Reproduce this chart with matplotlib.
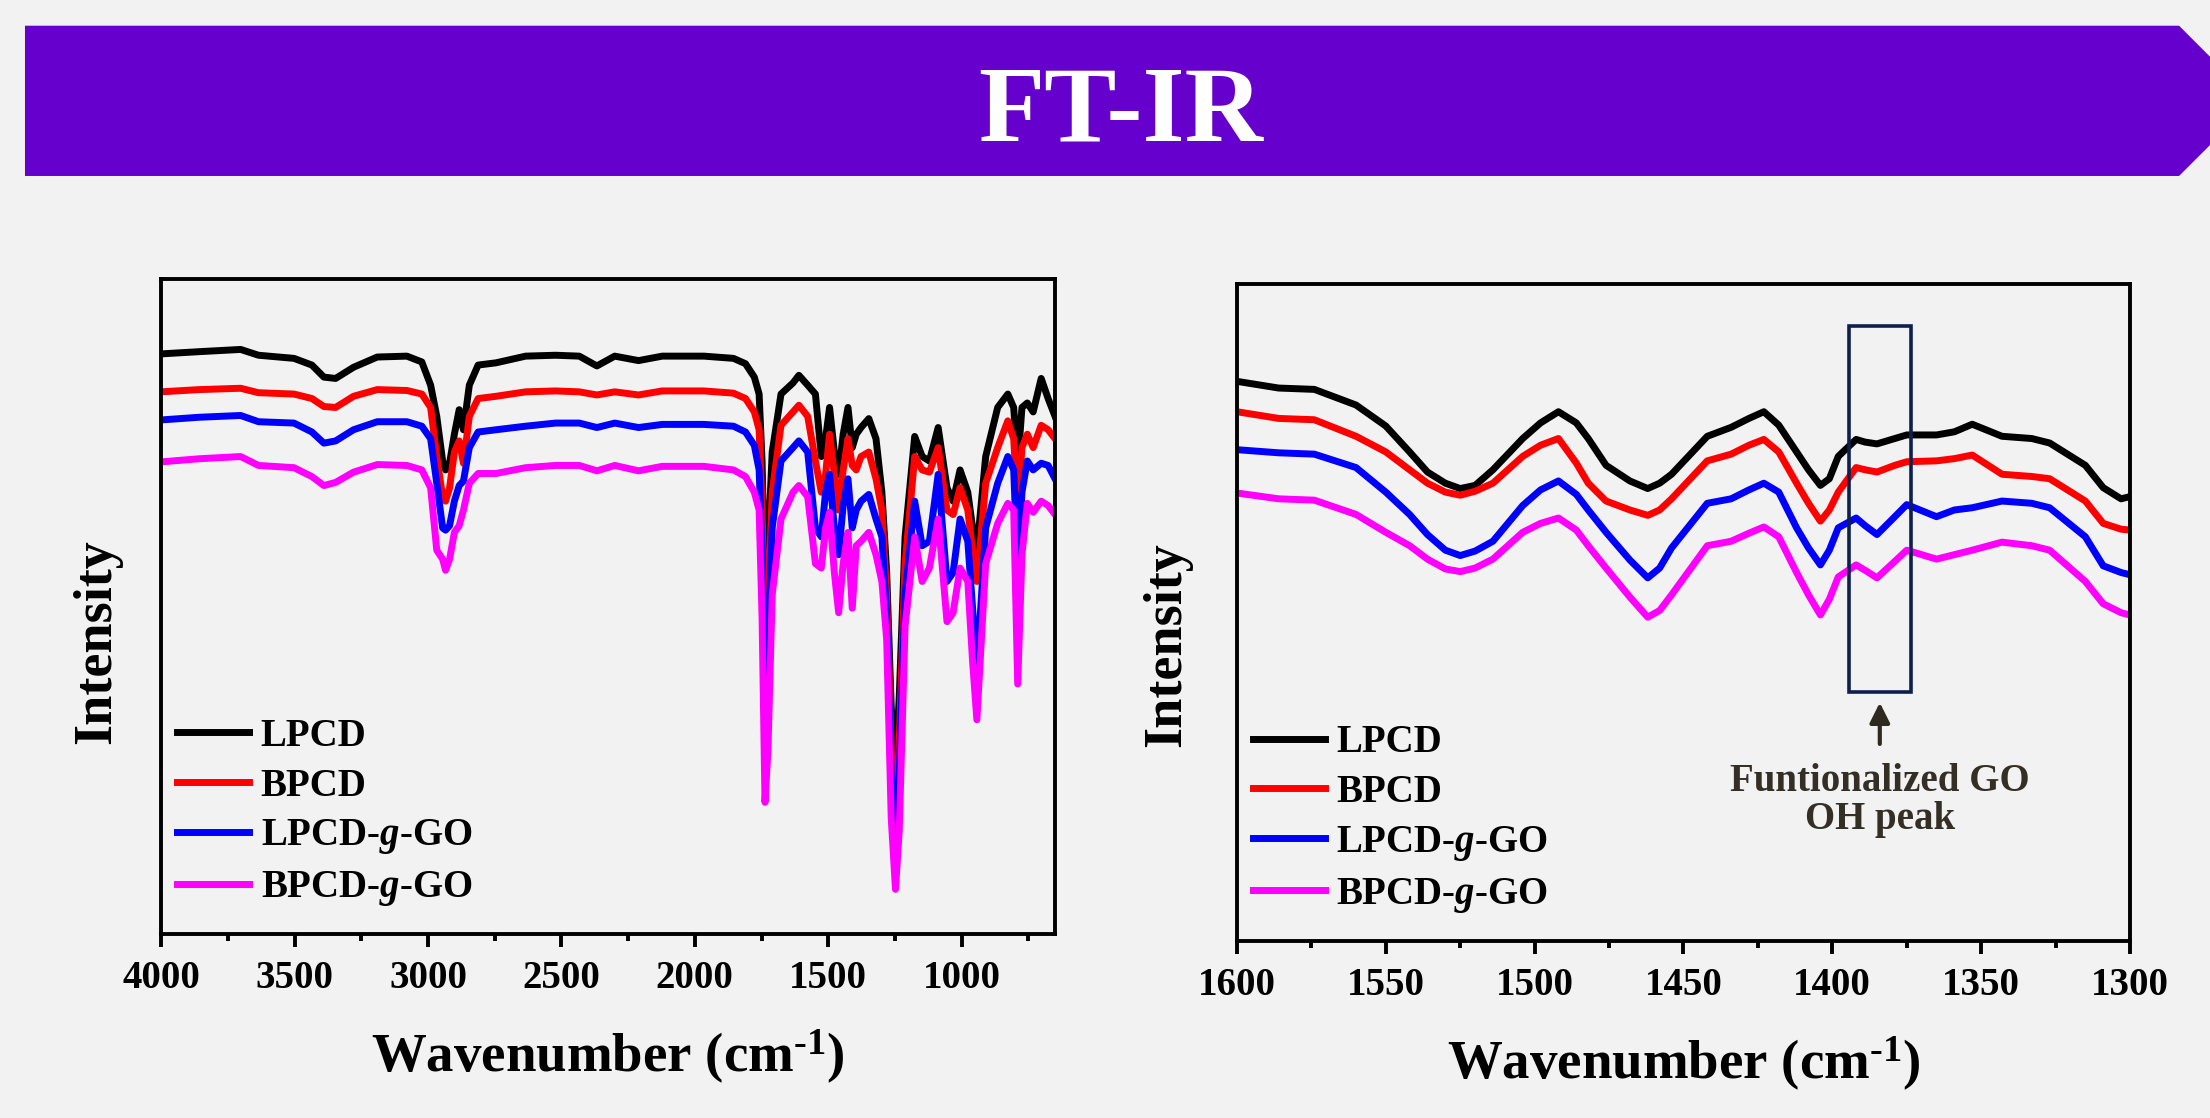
import numpy as np
import matplotlib
matplotlib.use("Agg")
import matplotlib.pyplot as plt
from matplotlib.patches import Polygon, Rectangle
from matplotlib.ticker import MultipleLocator

plt.rcParams['font.family'] = ['Liberation Serif', 'DejaVu Serif']
plt.rcParams['font.weight'] = 'bold'
plt.rcParams['mathtext.fontset'] = 'custom'
plt.rcParams['mathtext.rm'] = 'Liberation Serif:bold'
plt.rcParams['mathtext.bf'] = 'Liberation Serif:bold'
plt.rcParams['mathtext.it'] = 'Liberation Serif:italic:bold'
plt.rcParams['mathtext.default'] = 'rm'

# ---- data (intensity in arbitrary units) ----
labels = ['LPCD', 'BPCD', r'LPCD-$\mathit{g}$-GO', r'BPCD-$\mathit{g}$-GO']
colors = ['#000000', '#FF0000', '#0000FF', '#FF00FF']

# full range spectra 4000-650 cm-1
wn_full = [4000, 3858, 3702, 3635, 3502, 3435, 3390, 3346, 3279, 3190, 3079, 3023,
           2990, 2967, 2945, 2934, 2919, 2901, 2883, 2867, 2845, 2812, 2745, 2634,
           2522, 2433, 2367, 2300, 2211, 2122, 1966, 1855, 1810, 1777, 1759, 1748,
           1737, 1726, 1710, 1677, 1632, 1610, 1577, 1548, 1526, 1510, 1495, 1477,
           1461, 1444, 1426, 1410, 1395, 1377, 1348, 1321, 1299, 1281, 1264, 1248,
           1234, 1212, 1176, 1148, 1121, 1088, 1055, 1032, 1006, 977, 959, 943,
           910, 865, 827, 805, 790, 774, 754, 732, 702, 676, 650]
lpcd_full = [130.0, 130.5, 131.0, 129.7, 129.0, 127.5, 124.8, 124.5, 127.0, 129.3, 129.5, 128.2,
             123.0, 116.0, 106.0, 104.0, 105.5, 112.0, 117.5, 113.0, 123.0, 127.5, 128.0, 129.5,
             129.7, 129.5, 127.3, 129.5, 128.5, 129.5, 129.5, 129.0, 127.8, 124.8, 121.0, 106.0,
             77.0, 86.0, 108.0, 121.0, 123.5, 125.2, 123.0, 121.0, 107.0, 111.0, 118.0, 108.0,
             103.0, 112.0, 118.0, 109.0, 112.0, 113.5, 115.5, 111.0, 99.0, 81.0, 51.0, 36.0,
             53.0, 89.0, 111.5, 107.0, 106.0, 113.5, 100.0, 97.0, 104.0, 99.0, 91.0, 86.0,
             107.0, 118.0, 121.0, 118.0, 105.0, 118.0, 119.0, 117.0, 124.5, 120.0, 116.0]
bpcd_full = [121.5, 122.0, 122.3, 121.3, 121.0, 120.0, 118.2, 118.0, 120.5, 122.0, 121.8, 121.0,
             118.0, 107.0, 98.0, 97.0, 100.0, 108.0, 110.5, 105.5, 116.0, 120.0, 120.5, 121.5,
             121.7, 121.5, 120.8, 121.5, 120.8, 121.7, 121.7, 121.2, 120.0, 117.0, 113.0, 96.0,
             66.0, 73.0, 99.0, 114.0, 117.0, 118.5, 116.0, 106.0, 99.0, 103.0, 112.0, 103.0,
             95.0, 104.0, 111.0, 105.0, 104.0, 107.0, 108.0, 102.0, 95.0, 76.0, 41.0, 26.0,
             43.0, 83.0, 107.0, 104.0, 103.5, 109.0, 95.0, 94.0, 100.0, 95.0, 86.0, 79.0,
             101.0, 109.0, 115.0, 111.0, 95.0, 109.0, 112.0, 109.0, 114.0, 113.0, 111.0]
lpcd_go_full = [115.2, 115.8, 116.2, 114.8, 114.5, 112.5, 110.0, 110.5, 113.0, 114.8, 114.8, 113.8,
                111.0, 101.0, 91.0, 90.5, 91.5, 97.0, 100.5, 101.5, 109.0, 112.5, 113.0, 113.8,
                114.5, 114.5, 113.5, 114.5, 113.5, 114.2, 114.2, 113.8, 112.5, 109.5, 104.0, 86.0,
                51.0, 61.0, 91.0, 106.0, 109.0, 110.5, 108.0, 91.0, 89.0, 99.0, 103.0, 91.0,
                85.0, 96.0, 102.0, 91.0, 95.0, 97.0, 98.5, 93.0, 89.0, 71.0, 36.0, 21.0,
                36.0, 76.0, 97.0, 87.0, 88.0, 103.0, 79.0, 81.0, 93.0, 88.0, 73.0, 59.0,
                91.0, 101.0, 107.0, 104.0, 81.0, 99.0, 106.0, 104.0, 105.5, 105.0, 102.0]
bpcd_go_full = [105.8, 106.5, 107.0, 105.0, 104.5, 102.5, 100.5, 101.2, 103.5, 105.2, 105.0, 104.0,
                100.0, 86.0, 84.0, 81.5, 84.0, 90.0, 91.5, 95.0, 101.0, 103.2, 103.2, 104.5,
                105.0, 105.0, 103.8, 105.0, 103.8, 104.8, 104.8, 104.0, 102.5, 99.0, 95.0, 71.0,
                29.5, 41.0, 76.0, 93.0, 99.0, 100.5, 98.0, 83.0, 82.0, 91.0, 94.5, 81.0,
                72.0, 83.0, 90.0, 73.0, 87.0, 88.0, 90.0, 85.0, 79.0, 66.0, 26.0, 10.0,
                23.0, 69.0, 89.0, 79.0, 82.0, 93.0, 70.0, 72.0, 82.0, 79.0, 61.0, 48.0,
                83.0, 92.0, 96.5, 95.0, 56.0, 85.0, 96.5, 94.5, 97.0, 96.0, 94.0]

# zoomed spectra 1600-1300 cm-1
wn_zoom = [1600, 1586, 1574, 1560, 1550, 1542, 1536, 1530, 1525, 1520,
           1514, 1504, 1498, 1492, 1486, 1482, 1476, 1468, 1462, 1458,
           1454, 1442, 1434, 1428, 1423, 1418, 1412, 1408, 1404, 1401,
           1398, 1392, 1389, 1385, 1379, 1375, 1365, 1359, 1353, 1343,
           1333, 1327, 1315, 1309, 1303, 1300]
lpcd_zoom = [125.3, 123.8, 123.5, 120.0, 115.3, 109.5, 105.0, 102.5, 101.3, 102.0,
             105.5, 112.5, 116.0, 118.5, 116.0, 112.5, 106.5, 103.0, 101.3, 102.5,
             104.5, 113.0, 115.0, 117.0, 118.5, 115.5, 109.5, 105.5, 102.0, 103.5,
             108.5, 112.3, 111.7, 111.3, 112.5, 113.3, 113.3, 114.0, 115.7, 113.0,
             112.5, 111.5, 106.5, 101.5, 99.0, 99.5]
bpcd_zoom = [118.5, 117.0, 116.7, 113.0, 109.5, 105.5, 102.5, 100.5, 99.8, 100.7,
             102.5, 108.5, 111.0, 112.5, 107.0, 102.5, 98.5, 96.5, 95.3, 96.5,
             99.0, 107.5, 109.0, 111.0, 112.3, 109.5, 102.5, 98.0, 94.0, 96.5,
             100.5, 106.0, 105.5, 105.0, 106.5, 107.3, 107.5, 108.0, 108.8, 104.5,
             104.0, 103.5, 98.5, 93.5, 92.2, 92.0]
lpcd_go_zoom = [110.0, 109.3, 109.0, 106.0, 100.5, 95.5, 91.0, 87.5, 86.3, 87.3,
                89.5, 97.5, 101.0, 103.0, 100.0, 96.5, 91.5, 85.3, 81.3, 83.5,
                88.0, 98.0, 99.0, 101.0, 102.5, 100.5, 92.5, 88.0, 84.2, 87.5,
                92.5, 94.7, 93.0, 91.0, 95.0, 97.7, 95.0, 96.5, 97.0, 98.5,
                98.0, 97.0, 90.5, 84.0, 82.5, 82.0]
bpcd_go_zoom = [100.3, 99.0, 98.7, 95.5, 91.5, 88.5, 85.5, 83.3, 82.7, 83.5,
                85.5, 91.5, 93.5, 94.7, 92.0, 88.5, 83.5, 77.0, 72.5, 74.0,
                77.5, 88.5, 89.5, 91.3, 92.7, 90.5, 82.5, 77.5, 73.0, 76.5,
                81.5, 84.2, 83.0, 81.3, 85.0, 87.5, 85.5, 86.5, 87.5, 89.3,
                88.5, 87.5, 80.5, 75.5, 73.5, 73.0]

box_x = [1373.6, 1394.5]
box_y = [55.8, 137.7]

bg = '#F2F2F2'
fig = plt.figure(figsize=(22.1, 11.18), dpi=100, facecolor=bg)

# title banner
banner = Polygon([[0.0113, 0.977], [0.986, 0.977], [1.02, 0.9097], [0.986, 0.8426], [0.0113, 0.8426]],
                 closed=True, transform=fig.transFigure, facecolor='#6600CC', edgecolor='none')
fig.add_artist(banner)
fig.text(0.5072, 0.8742, 'FT-IR', color='white', fontsize=78, fontweight='bold',
         ha='center', va='baseline')

xlab = 'Wavenumber (cm$^{\u20101}$)'


def style(ax):
    ax.set_facecolor(bg)
    for s in ax.spines.values():
        s.set_linewidth(2.8)
    ax.tick_params(axis='x', which='major', direction='out', length=9.5, width=2.8,
                   labelsize=28, pad=9)
    ax.tick_params(axis='x', which='minor', direction='out', length=5, width=2.8)
    ax.tick_params(axis='y', which='both', left=False, labelleft=False)
    ax.set_xlabel(xlab, fontsize=39.5, fontweight='bold', labelpad=22.5)
    ax.set_ylabel('Intensity', fontsize=39, fontweight='bold')


legend_kw = dict(loc='upper left', frameon=False, fontsize=28, handlelength=1.85,
                 handletextpad=0.3, labelspacing=0.33, borderaxespad=0, borderpad=0)

ax1 = fig.add_axes([0.0729, 0.1646, 0.4045, 0.5859])
for y, c, lab in zip([lpcd_full, bpcd_full, lpcd_go_full, bpcd_go_full], colors, labels):
    ax1.plot(wn_full, y, color=c, lw=5, label=lab, solid_joinstyle='round')
ax1.set_xlim(4000, 650)
ax1.set_ylim(0, 146.8)
ax1.xaxis.set_major_locator(MultipleLocator(500))
ax1.xaxis.set_minor_locator(MultipleLocator(250))
style(ax1)
ax1.yaxis.set_label_coords(-0.044, 0.447)
ax1.legend(bbox_to_anchor=(0.018, 0.33), **legend_kw)

ax2 = fig.add_axes([0.5597, 0.1583, 0.4041, 0.5877])
for y, c, lab in zip([lpcd_zoom, bpcd_zoom, lpcd_go_zoom, bpcd_go_zoom], colors, labels):
    ax2.plot(wn_zoom, y, color=c, lw=5, label=lab, solid_joinstyle='round')
ax2.set_xlim(1600, 1300)
ax2.set_ylim(0, 147.1)
ax2.xaxis.set_major_locator(MultipleLocator(50))
ax2.xaxis.set_minor_locator(MultipleLocator(25))
style(ax2)
ax2.yaxis.set_label_coords(-0.050, 0.4505)
ax2.legend(bbox_to_anchor=(0.0175, 0.33), **legend_kw)

ax2.add_patch(Rectangle((box_x[0], box_y[0]), box_x[1] - box_x[0], box_y[1] - box_y[0],
                        fill=False, edgecolor='#0D1F4F', lw=2.6, zorder=5))
xc = (box_x[0] + box_x[1]) / 2
ax2.annotate('', xy=(xc, 54.0), xytext=(xc, 43.5),
             arrowprops=dict(arrowstyle='-|>', color='#2E2A1F', lw=3, mutation_scale=30))
ax2.text(xc, 31.5, 'Funtionalized GO\nOH peak', color='#332F25', fontsize=28,
         fontweight='bold', ha='center', va='center', linespacing=1.05)

fig.savefig('out.png', dpi=100, facecolor=bg)
